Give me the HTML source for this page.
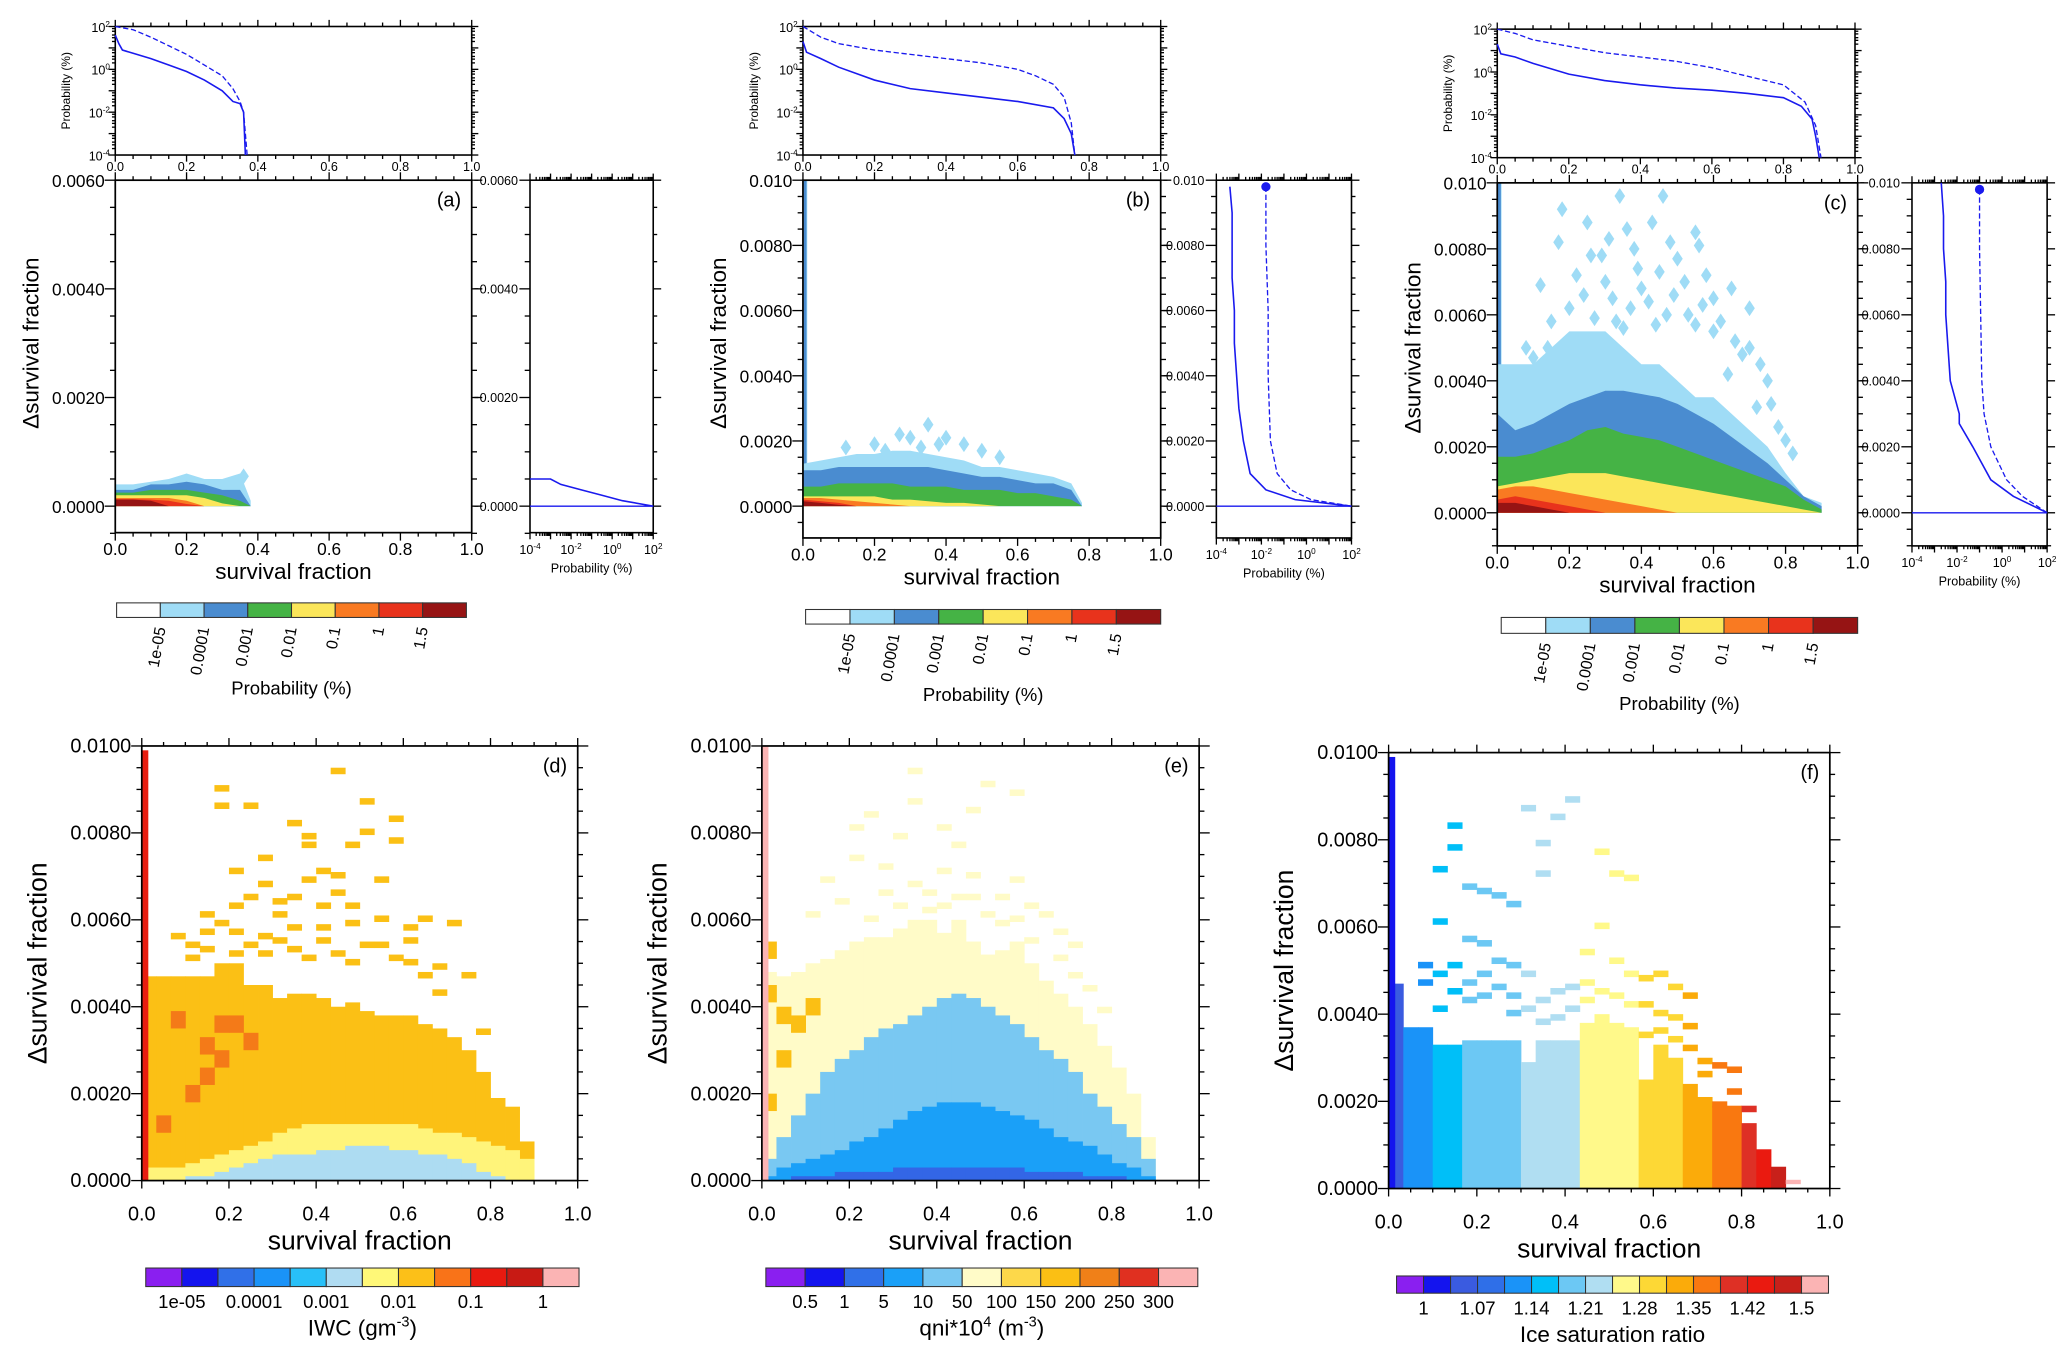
<!DOCTYPE html>
<html><head><meta charset="utf-8"><style>
html,body{margin:0;padding:0;background:#fff;}
svg{display:block;font-family:"Liberation Sans",Arial,sans-serif;}
</style></head><body>
<svg id="fig" width="2067" height="1359" viewBox="0 0 1560 1025.66" xmlns="http://www.w3.org/2000/svg"></svg>
<script>
// ===== DATA =====
const aXs=[0,0.05,0.1,0.15,0.2,0.25,0.3,0.35,0.38];
const aLB=[.0004,.0004,.00045,.0005,.0006,.0005,.0005,.0006,.0001];
const aBL=[.0003,.0003,.0004,.0004,.00045,.0004,.0003,.0003,0];
const aGR=[.00025,.00025,.0003,.0003,.0003,.00025,.0002,.0001,0];
const aYE=[.0002,.0002,.0002,.0002,.0002,.00015,.00005,0,0];
const aOR=[.00015,.00015,.00015,.00015,.0001,0,0,0,0];
const aRD=[.00013,.00013,.00012,.0001,.00004,0,0,0,0];
const aDR=[.00012,.00012,.0001,0,0,0,0,0,0];

const bXs=[0,0.05,0.1,0.15,0.2,0.25,0.3,0.35,0.4,0.45,0.5,0.55,0.6,0.65,0.7,0.75,0.78];
const bLB=[.0013,.0014,.0015,.0016,.0016,.0017,.0017,.0016,.0015,.0014,.0012,.0012,.0011,.0010,.0009,.0007,.0001];
const bBL=[.0011,.0011,.0012,.0012,.0012,.0012,.0012,.0012,.0011,.0010,.0009,.0009,.0008,.0007,.0007,.0005,0];
const bGR=[.0006,.0006,.0007,.0007,.0007,.0007,.0006,.0006,.0006,.0005,.0005,.0005,.0004,.0004,.0003,.0002,0];
const bYE=[.0003,.0003,.0003,.0003,.0003,.0002,.0002,.00015,.0001,.0001,.00005,0,0,0,0,0,0];
const bOR=[.00025,.00025,.0002,.00015,.0001,.00005,0,0,0,0,0,0,0,0,0,0,0];
const bRD=[.0002,.00015,.0001,0,0,0,0,0,0,0,0,0,0,0,0,0,0];
const bDR=[.00015,.0001,.00004,0,0,0,0,0,0,0,0,0,0,0,0,0,0];
const bDots=[[0.12,.0018],[0.2,.0019],[0.3,.0021],[0.35,.0025],[0.4,.0021],[0.45,.0019],[0.5,.0017],[0.27,.0022],[0.55,.0015],[0.23,.0017],[0.33,.0018],[0.38,.0019]];

const cXs=[0,0.05,0.1,0.15,0.2,0.25,0.3,0.35,0.4,0.45,0.5,0.55,0.6,0.65,0.7,0.75,0.8,0.85,0.9];
const cLB=[.0045,.0045,.0045,.005,.0055,.0055,.0055,.005,.0045,.0045,.004,.0035,.0035,.003,.0025,.002,.0012,.0005,.0003];
const cBL=[.003,.0025,.0027,.003,.0033,.0035,.0037,.0037,.0036,.0035,.0033,.003,.0027,.0023,.0019,.0015,.001,.0005,.0002];
const cGR=[.0017,.0017,.0018,.002,.0022,.0025,.0026,.0024,.0023,.0022,.002,.0018,.0016,.0014,.0012,.001,.0008,.0004,.0001];
const cYE=[.0008,.0009,.001,.0011,.0012,.0012,.0012,.0011,.001,.0009,.0008,.0007,.0006,.0005,.0004,.0003,.0002,.0001,0];
const cOR=[.0007,.0008,.0008,.0007,.0006,.0005,.0004,.0003,.0002,.0001,0,0,0,0,0,0,0,0,0];
const cRD=[.0004,.0005,.0004,.0003,.0002,.0001,0,0,0,0,0,0,0,0,0,0,0,0,0];
const cDR=[.0003,.0003,.0002,.0001,0,0,0,0,0,0,0,0,0,0,0,0,0,0,0];
const cDots=[[0.34,.0096],[0.46,.0096],[0.18,.0092],[0.25,.0088],[0.17,.0082],[0.36,.0086],[0.43,.0088],[0.55,.0085],[0.56,.0081],[0.29,.0078],[0.12,.0069],[0.22,.0072],[0.45,.0073],[0.5,.0077],[0.65,.0068],[0.6,.0065],[0.32,.0065],[0.4,.0068],[0.7,.0062],[0.53,.0060],[0.75,.0040],[0.68,.0048],[0.6,.0055],[0.72,.0032],[0.78,.0026],[0.64,.0042],
[0.2,.0062],[0.24,.0066],[0.27,.0059],[0.3,.0070],[0.33,.0058],[0.37,.0062],[0.39,.0074],[0.42,.0064],[0.47,.0060],[0.49,.0066],[0.52,.0070],[0.57,.0063],[0.58,.0072],[0.62,.0058],[0.66,.0052],[0.7,.0050],[0.73,.0045],[0.55,.0057],[0.15,.0058],[0.08,.0050],[0.1,.0047],[0.14,.0050],[0.26,.0078],[0.38,.0080],[0.48,.0082],[0.31,.0083],[0.8,.0022],[0.82,.0018],[0.76,.0033],[0.44,.0057],[0.35,.0056]];

const aTopX=[0,.01,.02,.05,.1,.15,.2,.25,.3,.33,.35,.36,.365];
const aTopS=[1.6,1.2,.9,.75,.5,.2,-.1,-.5,-1,-1.5,-1.6,-2,-4];
const aTopDX=[0,.05,.1,.15,.2,.25,.3,.33,.35,.36,.37];
const aTopD=[2,1.85,1.5,1.1,.7,.2,-.3,-.9,-1.5,-2,-4];
const bTopX=[0,.01,.05,.1,.2,.3,.4,.5,.6,.7,.73,.75,.76];
const bTopS=[1.3,.8,.5,.1,-.5,-.9,-1.1,-1.3,-1.5,-1.8,-2.3,-3,-4];
const bTopDX=[0,.05,.1,.2,.3,.4,.5,.6,.65,.7,.73,.75,.76];
const bTopD=[2,1.5,1.2,.9,.7,.5,.3,0,-.3,-.7,-1.3,-2.5,-4];
const cTopX=[0,.01,.05,.1,.2,.3,.4,.5,.6,.7,.8,.85,.88,.89,.9];
const cTopS=[1.3,.85,.7,.4,-.1,-.4,-.6,-.75,-.85,-1,-1.2,-1.6,-2.2,-3,-4];
const cTopDX=[0,.05,.1,.2,.3,.4,.5,.6,.7,.8,.86,.89,.905];
const cTopD=[2,1.8,1.5,1.2,.9,.7,.5,.2,-.2,-.6,-1.4,-2.5,-4];

const aRY=[.0005,.0005,.0004,.0003,.0002,.0001,0];
const aRS=[-4,-3,-2.5,-1.5,-0.5,0.5,2];
const bRY=[.0098,.009,.008,.007,.006,.005,.004,.003,.002,.001,.0005,.0002,0];
const bRS=[-3.4,-3.3,-3.3,-3.3,-3.2,-3.2,-3.1,-3.0,-2.8,-2.5,-1.8,-0.5,2];
const bRDY=[.0098,.008,.006,.004,.002,.001,.0005,.0002,0];
const bRD2=[-1.8,-1.8,-1.7,-1.7,-1.6,-1.3,-0.7,0.2,2];
const cRY=[.01,.009,.008,.007,.006,.005,.004,.003,.0027,.002,.001,.0005,0];
const cRS=[-2.7,-2.6,-2.6,-2.5,-2.5,-2.4,-2.3,-1.9,-1.9,-1.3,-0.5,0.5,2];
const cRDY=[.0098,.008,.006,.004,.003,.002,.001,.0005,0];
const cRD2=[-1,-1,-.95,-.9,-.8,-.5,.2,.9,2];

const dLB=[0,0,0,.0001,.0001,.0002,.0003,.0004,.0005,.0006,.0006,.0006,.0007,.0007,.0008,.0008,.0008,.0007,.0007,.0006,.0006,.0005,.0004,.0002,.0001,0,0,0];
const dYE=[.0003,.0003,.0003,.0004,.0005,.0006,.0007,.0008,.0009,.0011,.0012,.0013,.0013,.0013,.0013,.0013,.0013,.0013,.0013,.0012,.0011,.0011,.001,.0009,.0008,.0007,.0005,0];
const dOR=[.0047,.0047,.0047,.0047,.0047,.005,.005,.0045,.0045,.0042,.0043,.0043,.0042,.004,.0041,.0039,.0038,.0038,.0038,.0036,.0035,.0033,.003,.0025,.0019,.0017,.0009,0];
const dScatter=[[2,.0057],[3,.0055],[5,.0060],[5,.0091],[5,.0087],[6,.0072],[7,.0066],[7,.0087],[8,.0075],[9,.0062],[9,.0065],[10,.0083],[11,.0080],[11,.0078],[12,.0059],[12,.0072],[13,.0067],[13,.0095],[14,.0078],[14,.0064],[15,.0081],[15,.0088],[16,.0055],[16,.0070],[17,.0084],[17,.0079],[18,.0051],[18,.0056],[19,.0048],[20,.0044],[21,.0060],[22,.0048],[23,.0035],
[3,.0052],[4,.0054],[4,.0058],[6,.0053],[6,.0058],[7,.0055],[8,.0057],[8,.0053],[9,.0056],[10,.0054],[10,.0059],[11,.0052],[12,.0056],[13,.0053],[14,.0051],[15,.0055],[16,.0061],[17,.0052],[18,.0059],[19,.0061],[20,.0050],[8,.0069],[10,.0066],[12,.0064],[14,.0060],[6,.0064],[4,.0062],[11,.0070],[13,.0071]];
const dDark=[[2,.0039],[3,.0022],[4,.0026],[4,.0033],[5,.0038],[5,.0030],[6,.0038],[7,.0034],[1,.0015]];
const eDB=[0,0,.0001,.0001,.0001,.0002,.0002,.0002,.0002,.0003,.0003,.0003,.0003,.0003,.0003,.0003,.0003,.0003,.0002,.0002,.0002,.0002,.0001,.0001,.0001,0,0,0];
const eBL=[.0001,.0003,.0004,.0005,.0006,.0007,.0009,.001,.0012,.0014,.0016,.0017,.0018,.0018,.0018,.0017,.0016,.0015,.0014,.0012,.001,.0009,.0008,.0006,.0004,.0003,.0001,0];
const eLB=[.0005,.001,.0015,.002,.0025,.0028,.003,.0033,.0035,.0036,.0038,.004,.0042,.0043,.0042,.004,.0038,.0036,.0033,.003,.0028,.0025,.002,.0017,.0013,.001,.0005,0];
const eCR=[.0048,.0047,.0048,.0050,.0051,.0053,.0055,.0056,.0056,.0058,.0060,.0060,.0057,.0060,.0055,.0052,.0053,.0055,.0050,.0046,.0043,.0040,.0036,.0031,.0026,.002,.001,0];
const eScatter=[[3,.0062],[4,.0070],[6,.0075],[7,.0085],[8,.0067],[9,.0080],[10,.0088],[11,.0063],[12,.0072],[13,.0078],[14,.0066],[15,.0092],[16,.0060],[17,.0070],[18,.0056],[19,.0062],[20,.0052],[21,.0048],[22,.0045],
[5,.0065],[7,.0061],[8,.0073],[9,.0064],[10,.0069],[11,.0067],[12,.0064],[13,.0066],[14,.0071],[15,.0062],[16,.0066],[17,.0061],[18,.0064],[20,.0058],[21,.0055],[23,.0040],[12,.0082],[14,.0086],[17,.0090],[6,.0082],[10,.0095]];
const eWarm=[[0,.0045],[1,.0040],[1,.0030],[0,.0020],[2,.0038],[3,.0042],[0,.0055]];
const fIdx=[2,4,4,5,5,6,6,6,6,7,7,7,7,8,8,8,8,9,9,9,10,10,11,11,12,13,14,15];
const fTop=[.0047,.0037,.0037,.0033,.0033,.0034,.0034,.0034,.0034,.0029,.0034,.0034,.0034,.0038,.0040,.0038,.0037,.0025,.0033,.0030,.0024,.0021,.0019,.0019,.0015,.0009,.0005,.0002];
const fScatter=[[4,.0084],[4,.0079],[3,.0074],[5,.0070],[6,.0069],[7,.0068],[8,.0066],[10,.0073],[10,.0080],[11,.0086],[12,.0090],[9,.0088],[14,.0078],[15,.0073],[16,.0072],[14,.0061],[13,.0055],[15,.0053],[16,.0050],[18,.0050],[19,.0047],[17,.0049],[19,.0040],[20,.0033],[21,.0030],[22,.0020],[20,.0045],[3,.0062],[5,.0058],[6,.0057],[8,.0052],[9,.0050],[11,.0046],[12,.0042],
[2,.0052],[2,.0048],[3,.0050],[3,.0042],[4,.0046],[4,.0052],[5,.0048],[5,.0044],[6,.0050],[6,.0045],[7,.0053],[7,.0047],[8,.0045],[8,.0041],[9,.0042],[10,.0039],[10,.0044],[11,.0040],[12,.0047],[13,.0044],[13,.0048],[14,.0046],[15,.0045],[16,.0043],[17,.0043],[18,.0041],[17,.0036],[18,.0037],[19,.0035],[20,.0038],[21,.0027],[22,.0029],[23,.0023],[23,.0028],[24,.0019]];
const cbABC=['#ffffff','#9fdcf6','#4a8cd0','#45b345','#fbe65a','#f97a22','#e8331c','#961414'];
const cbABCLab=['1e-05','0.0001','0.001','0.01','0.1','1','1.5'];
const cbD=['#8a1ff0','#1414ee','#3070e8','#1a93f8','#28c0f8','#b0dcf2','#fff878','#fcc018','#f97318','#e81a10','#c81a14','#fbb4b4'];
const cbDLab=['1e-05','0.0001','0.001','0.01','0.1','1'];
const cbE=['#8a1ff0','#1414ee','#3070e8','#1aa0f8','#79c8f2','#fffbc8','#fdd84a','#fbbf14','#f08018','#e03020','#fbb4b4'];
const cbELab=['0.5','1','5','10','50','100','150','200','250','300'];
const cbF=['#8a1ff0','#1414ee','#3a5be0','#2f6fe8','#1a93f8','#00bff8','#6cc8f4','#b0def2','#fff98a','#fdd835','#fbab0a','#f97810','#de3025','#ea1a10','#c8201a','#fbb4b4'];
const cbFLab=['1','1.07','1.14','1.21','1.28','1.35','1.42','1.5'];

// ===== DRAWING =====
const svg=document.getElementById('fig');
const NS='http://www.w3.org/2000/svg';
function mk(tag,attrs,parent){const e=document.createElementNS(NS,tag);for(const k in attrs)e.setAttribute(k,attrs[k]);(parent||svg).appendChild(e);return e;}
function txt(s,x,y,size,anchor,parent,rot){const t=mk('text',{x:x,y:y,'font-size':size,'text-anchor':anchor||'middle',fill:'#000'},parent);if(rot)t.setAttribute('transform','rotate('+rot+' '+x+' '+y+')');t.textContent=s;return t;}
function line(x1,y1,x2,y2,p,w){return mk('line',{x1,y1,x2,y2,stroke:'#000','stroke-width':w||1},p);}
function logLabel(x,y,exp,size,anchor,p){const t=mk('text',{x:x,y:y,'font-size':size,'text-anchor':anchor,fill:'#000'},p);t.textContent='10';const s=mk('tspan',{dy:-size*0.4,'font-size':size*0.65},t);s.textContent=String(exp);return t;}

function mainScale(P){return {sx:v=>P.x0+(P.x1-P.x0)*v, sy:v=>P.yZ-(P.yZ-P.yT)*v/P.ymax};}

function frame(P,g,yLabels,opt){
  const S=mainScale(P);
  mk('rect',{x:P.x0,y:P.yT,width:P.x1-P.x0,height:P.yB-P.yT,fill:'none',stroke:'#000','stroke-width':1.3},g);
  for(let i=0;i<=20;i++){const v=i*0.05,x=S.sx(v),maj=i%4==0;
    line(x,P.yB,x,P.yB+(maj?6:3),g);line(x,P.yT,x,P.yT-(maj?6:3),g);
    if(maj) txt(v.toFixed(1),x,P.yB+(opt.xlabOff||17),opt.tick||13,'middle',g);}
  for(let v=-0.0015;v<=P.ymax+1e-9;v+=0.0005){const y=S.sy(v);if(y>P.yB+0.5||y<P.yT-0.5)continue;
    const maj=Math.abs((v/0.002)-Math.round(v/0.002))<1e-6;
    line(P.x0,y,P.x0-(maj?8:4),y,g);line(P.x1,y,P.x1+(maj?8:4),y,g);}
  yLabels.forEach(v=>txt(v.toFixed(v>=0.01&&opt.short?3:4),P.x0-8,S.sy(v)+5,opt.tick||13,'end',g));
  txt('survival fraction',(P.x0+P.x1)/2,P.yB+(opt.xtOff||35),opt.title||17,'middle',g);
  txt('Δsurvival fraction',P.x0-(opt.ytOff||58),(P.yT+P.yZ)/2,opt.title||17,'middle',g,-90);
  txt('('+P.tag+')',P.x1-8,P.yT+20,15,'end',g);
}

function contourPanel(P,xs,layers,cols,dots,spike){
  const g=mk('g',{});
  
  
  const S=mainScale(P);
  if(spike){mk('rect',{x:S.sx(0),y:S.sy(0.01),width:S.sx(0.012)-S.sx(0),height:S.sy(0)-S.sy(0.01),fill:cols[0]},g);
    mk('rect',{x:S.sx(0.002),y:S.sy(0.01),width:S.sx(0.008)-S.sx(0),height:S.sy(0)-S.sy(0.01),fill:spike},g);}
  dots.forEach(d=>{const cx=S.sx(d[0]),cy=S.sy(d[1]);const el=mk('path',{d:`M${cx} ${cy-6}L${cx+4} ${cy}L${cx} ${cy+6}L${cx-4} ${cy}Z`,fill:cols[0]},g);
    });
  layers.forEach((L,li)=>{let d=`M${S.sx(xs[0])} ${S.sy(0)}`;
    xs.forEach((x,i)=>{d+=`L${S.sx(x)} ${S.sy(L[i])}`;});
    d+=`L${S.sx(xs[xs.length-1])} ${S.sy(0)}Z`;
    const p=mk('path',{d:d,fill:cols[li]},g);
    
    });
  const yl=P.ymax<0.007?[0,0.002,0.004,0.006]:[0,0.002,0.004,0.006,0.008,0.01];
  frame(P,g,yl,{short:true});
  return S;
}

function topMarg(T,sx,sol,dx,dsh){
  const g=mk('g',{});
  
  
  const X=v=>T.x0+(T.x1-T.x0)*v, Y=l=>T.y1-(T.y1-T.y0)*(l+4)/6;
  mk('rect',{x:T.x0,y:T.y0,width:T.x1-T.x0,height:T.y1-T.y0,fill:'none',stroke:'#000','stroke-width':1.2},g);
  for(let i=0;i<=20;i++){const x=X(i*0.05),maj=i%4==0;line(x,T.y0,x,T.y0-(maj?5:3),g);line(x,T.y1,x,T.y1+(maj?5:3),g);
    if(maj)txt((i*0.05).toFixed(1),x,T.y1+12,9.5,'middle',g);}
  for(let e=-4;e<=2;e++){const y=Y(e);line(T.x0,y,T.x0-5,y,g);line(T.x1,y,T.x1+5,y,g);
    for(let m=2;m<10;m+=(m<4?1:2)){if(e<2){const yy=Y(e+Math.log10(m));line(T.x0,yy,T.x0-2.5,yy,g);line(T.x1,yy,T.x1+2.5,yy,g);}}
    if(e%2==0)logLabel(T.x0-4,y+4,e,9.5,'end',g);}
  txt('Probability (%)',T.x0-34,(T.y0+T.y1)/2,9,'middle',g,-90);
  const ps=mk('polyline',{points:sx.map((v,i)=>X(v)+','+Y(sol[i])).join(' '),fill:'none',stroke:'#1a1aee','stroke-width':1.2},g);
  
  const pd=mk('polyline',{points:dx.map((v,i)=>X(v)+','+Y(dsh[i])).join(' '),fill:'none',stroke:'#1a1aee','stroke-width':1,'stroke-dasharray':'4,2'},g);
  
}

function rightMarg(R,P,ys,sol,dys,dsh,dot){
  const g=mk('g',{});
  
  
  const X=l=>R.x0+(R.x1-R.x0)*(l+4)/6, S=mainScale(P);
  mk('rect',{x:R.x0,y:P.yT,width:R.x1-R.x0,height:P.yB-P.yT,fill:'none',stroke:'#000','stroke-width':1.2},g);
  for(let e=-4;e<=2;e++){const x=X(e);line(x,P.yB,x,P.yB+5,g);line(x,P.yT,x,P.yT-5,g);
    if(e<2)for(let m=2;m<10;m++){const xx=X(e+Math.log10(m));line(xx,P.yB,xx,P.yB+2.5,g);line(xx,P.yT,xx,P.yT-2.5,g);}
    if(e%2==0)logLabel(x,P.yB+16,e,9.5,'middle',g);}
  txt('Probability (%)',(R.x0+R.x1)/2,P.yB+30,9.5,'middle',g);
  for(let v=-0.0015;v<=P.ymax+1e-9;v+=0.0005){const y=S.sy(v);if(y>P.yB+0.5||y<P.yT-0.5)continue;
    const maj=Math.abs((v/0.002)-Math.round(v/0.002))<1e-6;line(R.x0,y,R.x0-(maj?8:4),y,g);line(R.x1,y,R.x1+(maj?6:3),y,g);
    if(maj||Math.abs(v-0.01)<1e-9){txt((v>=0.0099?v.toFixed(3):v.toFixed(4)),R.x0-9,y+3.5,9.5,'end',g);line(P.x1+2,y,P.x1+5,y,g);}}
  line(R.x0,S.sy(0),R.x1,S.sy(0),g,1).setAttribute('stroke','#1a1aee');
  const ps=mk('polyline',{points:ys.map((v,i)=>X(sol[i])+','+S.sy(v)).join(' '),fill:'none',stroke:'#1a1aee','stroke-width':1.2},g);
  
  if(dys){const pd=mk('polyline',{points:dys.map((v,i)=>X(dsh[i])+','+S.sy(v)).join(' '),fill:'none',stroke:'#1a1aee','stroke-width':1,'stroke-dasharray':'4,2'},g);
    }
  if(dot){const c=mk('circle',{cx:X(dsh[0]),cy:S.sy(dys[0]),r:3.5,fill:'#1a1aee'},g);}
}

function colorbar(C,cols,labs,mode,title){
  const g=mk('g',{});
  
  
  const w=(C.x1-C.x0)/cols.length;
  cols.forEach((c,i)=>{const r=mk('rect',{x:C.x0+i*w,y:C.y0,width:w,height:C.y1-C.y0,fill:c,stroke:'#333','stroke-width':0.8},g);
    });
  labs.forEach((l,i)=>{
    if(mode=='rot'){const x=C.x0+(i+1)*w;txt(l,x+4,C.y1+8,12,'end',g,-80);}
    else{const k=mode=='every2'?2*i+1:i+1;txt(l,C.x0+k*w,C.y1+16,14,'middle',g);}});
  if(title){const t=mk('text',{x:(C.x0+C.x1)/2,y:C.y1+(mode=='rot'?58:37),'font-size':mode=='rot'?14:17,'text-anchor':'middle',fill:'#000'},g);
    t.innerHTML=title;}
}

const cAbc=['#9fdcf6','#4a8cd0','#45b345','#fbe65a','#f97a22','#e8331c','#961414'];
const PA={tag:'a',x0:87,x1:356,yT:136,yZ:382,yB:402,ymax:0.006};
contourPanel(PA,aXs,[aLB,aBL,aGR,aYE,aOR,aRD,aDR],cAbc,[[0.36,.00055]],null);
topMarg({tag:'a',x0:87,x1:356,y0:20,y1:117},aTopX,aTopS,aTopDX,aTopD);
rightMarg({x0:400,x1:493},PA,aRY,aRS,null,null,false);
colorbar({tag:'a',x0:88,x1:352,y0:455,y1:466},cbABC,cbABCLab,'rot','Probability (%)');
const PB={tag:'b',x0:606,x1:876,yT:136,yZ:382,yB:406,ymax:0.01};
contourPanel(PB,bXs,[bLB,bBL,bGR,bYE,bOR,bRD,bDR],cAbc,bDots,'#4a8cd0');
topMarg({tag:'b',x0:606,x1:876,y0:20,y1:117},bTopX,bTopS,bTopDX,bTopD);
rightMarg({x0:918,x1:1020},PB,bRY,bRS,bRDY,bRD2,true);
colorbar({tag:'b',x0:608,x1:876,y0:460,y1:471},cbABC,cbABCLab,'rot','Probability (%)');
const PC={tag:'c',x0:1130,x1:1402,yT:138,yZ:387,yB:412,ymax:0.01};
contourPanel(PC,cXs,[cLB,cBL,cGR,cYE,cOR,cRD,cDR],cAbc,cDots,'#4a8cd0');
topMarg({tag:'c',x0:1130,x1:1400,y0:22,y1:119},cTopX,cTopS,cTopDX,cTopD);
rightMarg({x0:1443,x1:1545},PC,cRY,cRS,cRDY,cRD2,true);
colorbar({tag:'c',x0:1133,x1:1402,y0:466,y1:478},cbABC,cbABCLab,'rot','Probability (%)');

function heatFrame(P,g){frame(P,g,[0,0.002,0.004,0.006,0.008,0.01],{tick:15,title:20,xlabOff:30,xtOff:52,ytOff:72});}
function cell(g,S,bin,y0,y1,col){const r=mk('rect',{x:S.sx(bin/30),y:S.sy(y1),width:S.sx(1/30)-S.sx(0)+0.3,height:Math.max(0.5,S.sy(y0)-S.sy(y1)),fill:col},g);
  return r;}
const PD={tag:'d',x0:107,x1:436,yT:563,yZ:891,yB:891,ymax:0.01};
{const g=mk('g',{});const S=mainScale(PD);
 dOR.forEach((h,i)=>{if(h>0)cell(g,S,i,0,h,'#fbc015');});
 dYE.forEach((h,i)=>{if(h>0)cell(g,S,i,0,h,'#fff47a');});
 dLB.forEach((h,i)=>{if(h>0)cell(g,S,i,0,h,'#addcf2');});
 dScatter.forEach(p=>cell(g,S,p[0],p[1]-0.00015,p[1],'#fbc015'));
 dDark.forEach(p=>cell(g,S,p[0],p[1]-0.0004,p[1],'#f47a18'));
 mk('rect',{x:S.sx(0),y:S.sy(0.0099),width:S.sx(0.015)-S.sx(0),height:S.sy(0)-S.sy(0.0099),fill:'#e81d10'},g);
 heatFrame(PD,g);}
colorbar({tag:'d',x0:110,x1:437,y0:957,y1:971},cbD,cbDLab,'every2','IWC (gm<tspan dy="-7" font-size="11">-3</tspan><tspan dy="7">)</tspan>');
const PE={tag:'e',x0:575,x1:905,yT:563,yZ:891,yB:891,ymax:0.01};
{const g=mk('g',{});const S=mainScale(PE);
 eCR.forEach((h,i)=>{if(h>0)cell(g,S,i,0,h,'#fffbc8');});
 eScatter.forEach(p=>cell(g,S,p[0],p[1]-0.00015,p[1],'#fffbc8'));
 eWarm.forEach(p=>cell(g,S,p[0],p[1]-0.0004,p[1],'#fbbf14'));
 eLB.forEach((h,i)=>{if(h>0)cell(g,S,i,0,h,'#79c8f2');});
 eBL.forEach((h,i)=>{if(h>0)cell(g,S,i,0,h,'#1aa0f8');});
 eDB.forEach((h,i)=>{if(h>0)cell(g,S,i,0,h,'#3366e6');});
 mk('rect',{x:S.sx(0),y:S.sy(0.01),width:S.sx(0.015)-S.sx(0),height:S.sy(0)-S.sy(0.01),fill:'#fbb4b4'},g);
 heatFrame(PE,g);}
colorbar({tag:'e',x0:578,x1:904,y0:957,y1:971},cbE,cbELab,'each','qni*10<tspan dy="-7" font-size="11">4</tspan><tspan dy="7"> (m</tspan><tspan dy="-7" font-size="11">-3</tspan><tspan dy="7">)</tspan>');
const PF={tag:'f',x0:1048,x1:1381,yT:568,yZ:897,yB:897,ymax:0.01};
{const g=mk('g',{});const S=mainScale(PF);
 fTop.forEach((h,i)=>cell(g,S,i,(i==27?0.0001:0),h,cbF[fIdx[i]]));
 fScatter.forEach(p=>cell(g,S,p[0],p[1]-0.00015,p[1],cbF[fIdx[p[0]]]));
 mk('rect',{x:S.sx(0),y:S.sy(0.0099),width:S.sx(0.015)-S.sx(0),height:S.sy(0)-S.sy(0.0099),fill:'#1414ee'},g);
 heatFrame(PF,g);}
colorbar({tag:'f',x0:1054,x1:1380,y0:963,y1:976},cbF,cbFLab,'every2','Ice saturation ratio');
</script>
</body></html>
